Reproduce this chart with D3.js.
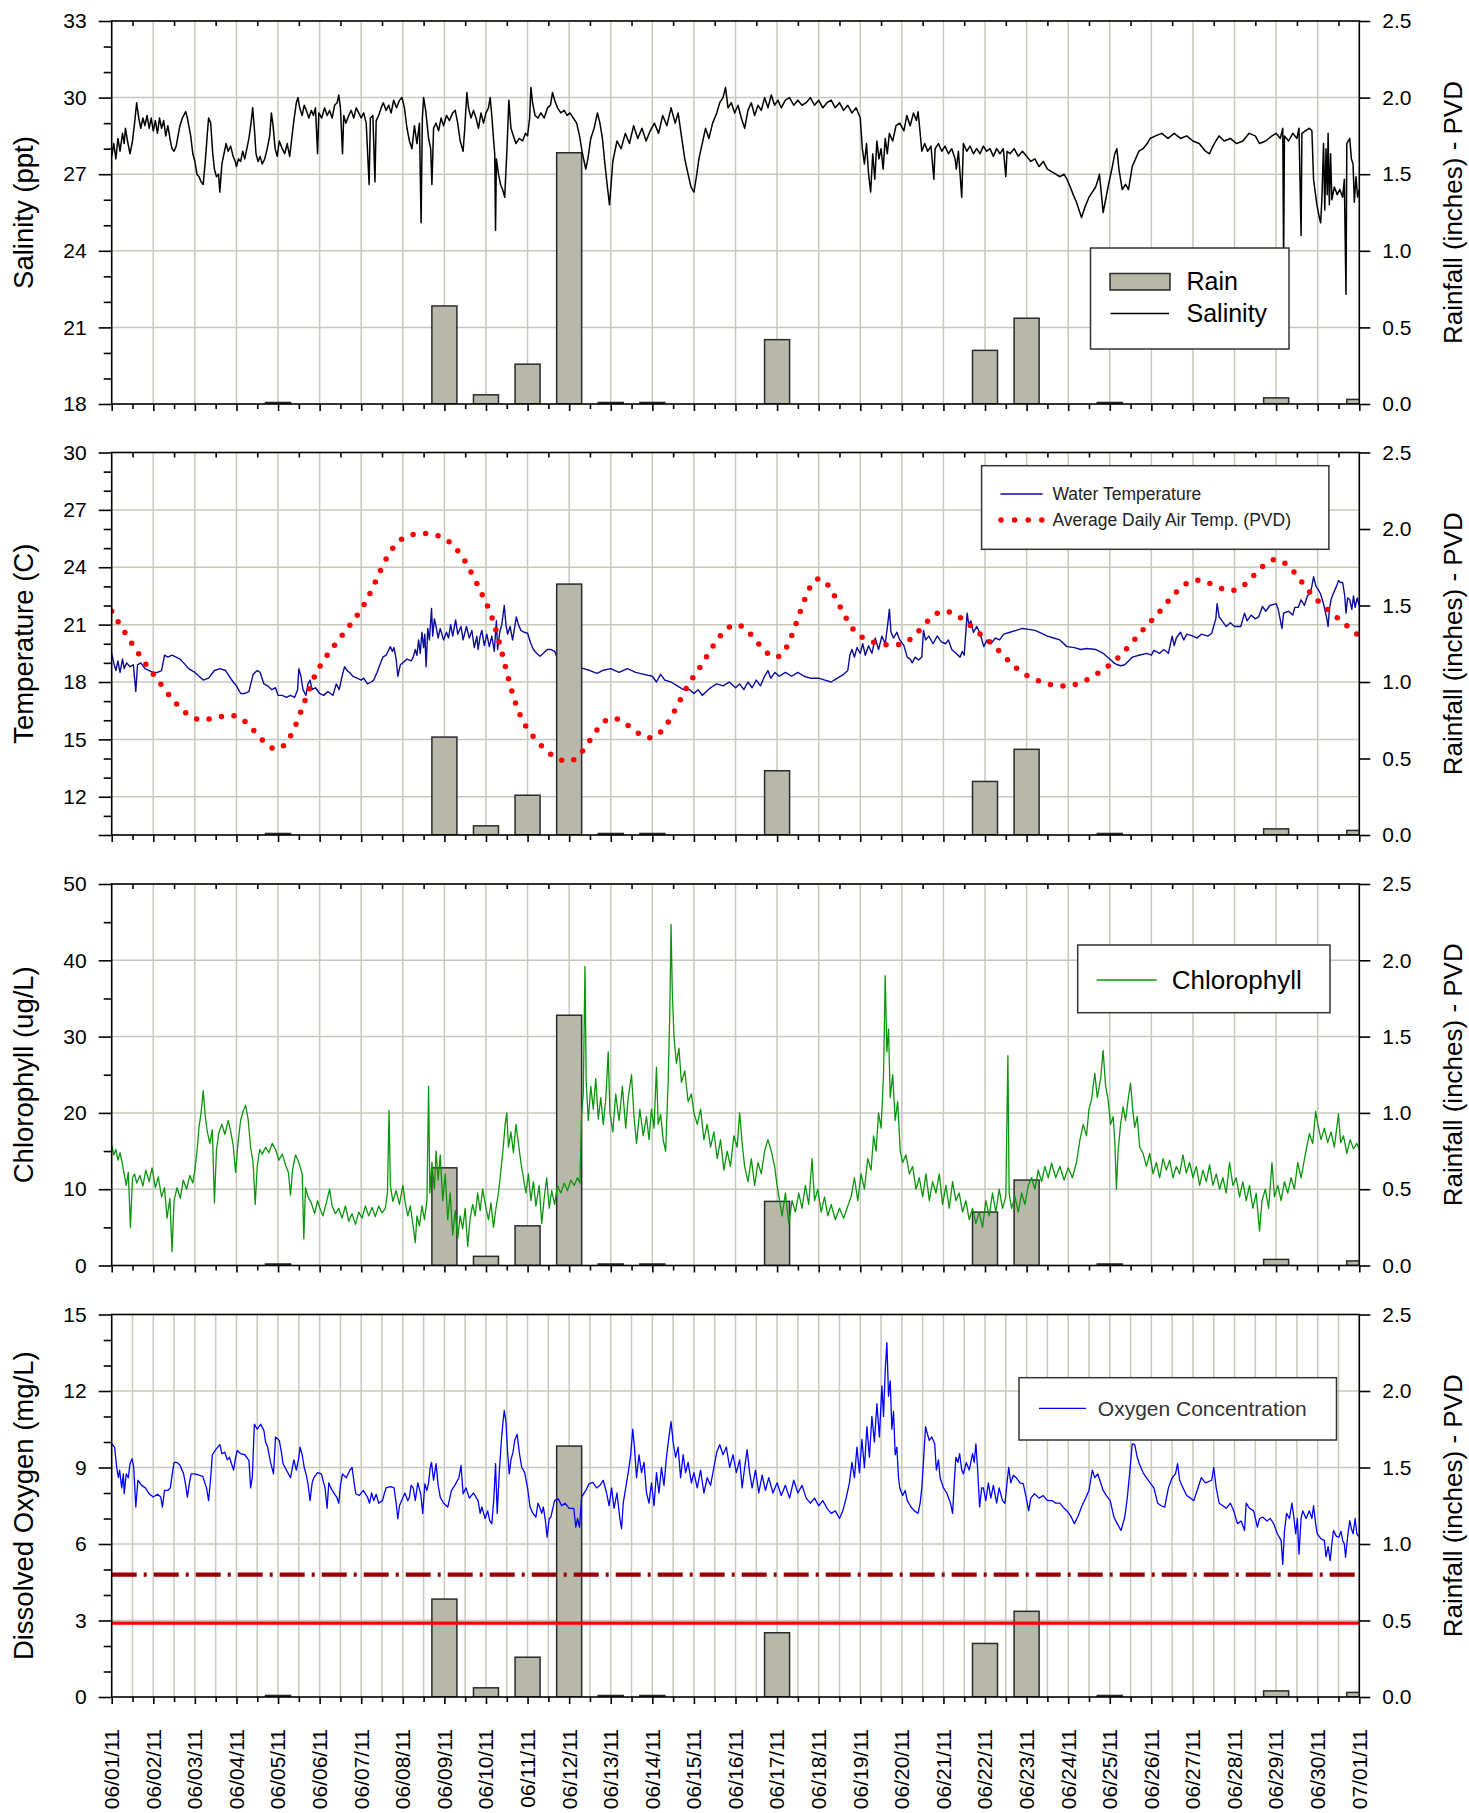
<!DOCTYPE html>
<html>
<head>
<meta charset="utf-8">
<script src="https://cdn.jsdelivr.net/npm/d3@7/dist/d3.min.js"></script>
<style>
body { margin: 0; background: #fff; }
svg text { font-family: "Liberation Sans", Arial, sans-serif; }
</style>
</head>
<body>
<svg id="chart" width="1469" height="1813"></svg>
<script>
// ---- data (day 0 = 06/01/11 00:00) ----
var dates = ["06/01/11","06/02/11","06/03/11","06/04/11","06/05/11","06/06/11","06/07/11","06/08/11",
  "06/09/11","06/10/11","06/11/11","06/12/11","06/13/11","06/14/11","06/15/11","06/16/11","06/17/11",
  "06/18/11","06/19/11","06/20/11","06/21/11","06/22/11","06/23/11","06/24/11","06/25/11","06/26/11",
  "06/27/11","06/28/11","06/29/11","06/30/11","07/01/11"];

var rainDays   = [4, 8, 9, 10, 11, 12, 13, 16, 21, 22, 24, 28, 30];
var rainInches = [0.01, 0.64, 0.06, 0.26, 1.64, 0.01, 0.01, 0.42, 0.35, 0.56, 0.01, 0.04, 0.03];

// average daily air temperature, one value per day 06/01 .. 07/01
var airTemp = [21.7, 18.4, 16.1, 16.2, 14.5, 18.8, 21.8, 25.5, 25.5, 22.15, 15.55, 13.85, 16.1, 15.1, 18.3,
  21.0, 19.3, 23.4, 20.4, 20.0, 21.7, 20.3, 18.35, 17.8, 18.9, 21.2, 23.3, 22.8, 24.4, 22.25, 20.4];

var salinity = [[0,27.7],[0.05,28.2],[0.1,27.6],[0.15,28.4],[0.2,27.9],[0.26,28.6],[0.3,28.2],[0.33,28.8],[0.38,28.3],[0.44,27.8],
  [0.5,28.3],[0.55,29.0],[0.6,29.8],[0.65,29.2],[0.7,28.8],[0.75,29.2],[0.8,28.9],[0.85,29.3],[0.9,28.8],[0.95,29.2],
  [1.0,28.7],[1.05,29.1],[1.1,28.6],[1.15,29.2],[1.2,28.8],[1.25,29.1],[1.3,28.5],[1.35,28.9],[1.4,28.4],[1.45,28.0],
  [1.5,27.9],[1.55,28.1],[1.64,28.9],[1.7,29.2],[1.78,29.45],[1.82,29.2],[1.9,28.5],[1.95,27.8],[2.0,27.5],[2.05,27.0],
  [2.1,26.9],[2.15,26.7],[2.2,26.6],[2.25,27.5],[2.3,28.6],[2.33,29.2],[2.38,29.0],[2.43,27.8],[2.47,27.2],[2.52,26.9],
  [2.57,27.0],[2.6,26.3],[2.65,27.4],[2.7,27.8],[2.75,28.2],[2.8,27.9],[2.86,28.1],[2.92,27.7],[2.97,27.5],[3.0,27.3],
  [3.05,27.6],[3.1,27.5],[3.15,27.9],[3.2,27.6],[3.25,28.0],[3.3,28.4],[3.35,29.0],[3.39,29.6],[3.43,28.8],[3.47,27.8],
  [3.52,27.5],[3.57,27.7],[3.62,27.4],[3.68,27.6],[3.74,28.0],[3.8,28.5],[3.84,29.4],[3.88,28.9],[3.93,28.0],[3.98,27.7],
  [4.03,28.3],[4.1,28.0],[4.16,27.8],[4.22,28.2],[4.28,27.7],[4.33,28.4],[4.38,29.1],[4.44,29.8],[4.48,30.0],[4.52,29.6],
  [4.58,29.3],[4.63,29.7],[4.68,29.5],[4.74,29.2],[4.8,29.5],[4.85,29.3],[4.9,29.6],[4.95,27.8],[4.98,29.4],[5.05,29.2],
  [5.12,29.6],[5.18,29.3],[5.24,29.5],[5.3,29.2],[5.36,29.7],[5.42,29.8],[5.46,30.1],[5.5,29.6],[5.55,27.8],[5.58,29.3],
  [5.63,29.0],[5.7,29.3],[5.76,29.5],[5.82,29.2],[5.88,29.6],[5.94,29.4],[6.0,29.2],[6.06,29.4],[6.12,29.0],[6.19,26.6],
  [6.22,29.2],[6.28,29.3],[6.33,26.7],[6.36,29.1],[6.42,29.3],[6.48,29.6],[6.53,29.8],[6.6,29.5],[6.66,29.7],[6.72,29.4],
  [6.78,29.9],[6.85,29.6],[6.92,29.9],[6.98,30.0],[7.04,29.6],[7.1,28.8],[7.16,28.3],[7.22,28.0],[7.28,28.9],[7.34,28.2],
  [7.4,29.0],[7.44,25.1],[7.47,29.2],[7.5,30.0],[7.55,29.5],[7.62,28.4],[7.67,28.0],[7.7,26.6],[7.74,28.8],[7.8,29.0],
  [7.86,28.7],[7.92,29.2],[7.98,28.9],[8.05,29.3],[8.12,29.1],[8.2,29.4],[8.26,29.5],[8.32,29.0],[8.38,28.3],[8.45,27.9],
  [8.49,28.8],[8.54,30.2],[8.58,29.6],[8.64,29.2],[8.7,29.5],[8.76,29.2],[8.82,28.8],[8.88,29.4],[8.94,29.0],[9.0,29.4],
  [9.06,29.6],[9.1,30.0],[9.14,29.3],[9.18,28.4],[9.21,27.8],[9.23,24.8],[9.25,27.6],[9.3,27.0],[9.35,26.6],[9.4,26.4],
  [9.45,26.1],[9.5,27.8],[9.55,29.9],[9.6,28.8],[9.66,28.5],[9.72,28.2],[9.8,28.4],[9.88,28.3],[9.95,28.6],[10.0,28.5],
  [10.05,29.2],[10.08,30.4],[10.12,29.8],[10.18,29.3],[10.25,29.2],[10.32,29.4],[10.4,29.2],[10.48,29.6],[10.55,29.7],[10.6,30.2],
  [10.65,29.9],[10.72,29.6],[10.8,29.4],[10.88,29.5],[10.95,29.3],[11.02,29.4],[11.1,29.2],[11.18,29.0],[11.25,28.5],[11.32,27.8],
  [11.4,27.2],[11.45,27.6],[11.52,28.4],[11.6,28.8],[11.68,29.4],[11.74,29.0],[11.8,28.4],[11.86,27.4],[11.92,26.5],[11.97,25.8],
  [12.05,27.5],[12.15,28.3],[12.25,28.0],[12.35,28.6],[12.45,28.2],[12.55,28.9],[12.65,28.4],[12.75,28.8],[12.85,28.3],[12.95,28.7],
  [13.05,29.0],[13.15,28.6],[13.25,29.3],[13.35,28.9],[13.45,29.6],[13.55,29.0],[13.62,29.4],[13.7,28.5],[13.78,27.6],[13.86,27.0],
  [13.93,26.5],[14.0,26.3],[14.06,26.9],[14.12,27.6],[14.2,28.2],[14.28,28.8],[14.36,28.4],[14.45,29.0],[14.55,29.4],[14.62,29.8],
  [14.7,30.0],[14.76,30.4],[14.82,29.6],[14.9,29.8],[14.98,29.4],[15.06,29.7],[15.14,29.2],[15.22,28.8],[15.3,29.5],[15.38,29.8],
  [15.46,29.3],[15.54,29.7],[15.62,29.5],[15.7,30.0],[15.78,29.6],[15.86,30.1],[15.94,29.7],[16.02,29.9],[16.1,29.6],[16.2,29.9],
  [16.3,30.0],[16.4,29.7],[16.5,29.9],[16.6,29.7],[16.7,29.8],[16.8,30.0],[16.9,29.7],[17.0,29.9],[17.1,29.6],[17.2,29.8],
  [17.3,29.9],[17.4,29.6],[17.5,29.8],[17.6,29.5],[17.7,29.7],[17.8,29.4],[17.9,29.6],[18.0,29.2],[18.05,28.0],[18.1,27.4],
  [18.15,28.2],[18.2,27.0],[18.25,26.3],[18.3,27.8],[18.35,26.8],[18.4,28.3],[18.45,27.6],[18.5,28.0],[18.55,27.2],[18.6,28.4],
  [18.65,27.8],[18.7,28.6],[18.78,28.3],[18.86,28.9],[18.95,29.0],[19.05,28.7],[19.12,29.3],[19.2,28.9],[19.28,29.4],[19.35,29.1],
  [19.39,29.45],[19.43,28.8],[19.48,27.9],[19.55,28.2],[19.62,27.9],[19.7,28.1],[19.77,26.8],[19.8,28.0],[19.88,28.2],[19.96,27.9],
  [20.04,28.1],[20.12,27.8],[20.2,28.0],[20.28,27.6],[20.31,27.2],[20.36,27.9],[20.44,26.1],[20.48,28.2],[20.56,27.9],[20.64,28.1],
  [20.72,27.8],[20.8,28.0],[20.88,27.8],[20.96,28.1],[21.04,27.9],[21.12,28.0],[21.2,27.7],[21.28,28.0],[21.36,27.8],[21.44,28.0],
  [21.5,26.9],[21.53,27.9],[21.6,27.8],[21.7,28.0],[21.8,27.7],[21.9,27.9],[22.0,27.7],[22.1,27.5],[22.2,27.6],[22.3,27.3],
  [22.4,27.5],[22.5,27.2],[22.6,27.1],[22.7,27.0],[22.8,26.9],[22.9,27.0],[22.97,26.8],[23.05,26.5],[23.12,26.2],[23.2,25.9],
  [23.26,25.6],[23.32,25.3],[23.4,25.7],[23.5,26.1],[23.58,26.3],[23.66,26.5],[23.72,26.8],[23.75,27.0],[23.8,26.2],[23.84,25.5],
  [23.9,26.0],[23.97,26.6],[24.05,27.2],[24.12,27.8],[24.17,28.0],[24.22,27.2],[24.3,26.4],[24.38,26.6],[24.45,26.4],[24.54,27.3],
  [24.62,27.6],[24.7,27.9],[24.8,28.0],[24.9,28.2],[24.97,28.4],[25.1,28.5],[25.25,28.6],[25.4,28.4],[25.55,28.6],[25.7,28.4],
  [25.85,28.5],[26.0,28.3],[26.15,28.2],[26.3,27.9],[26.4,27.8],[26.45,28.0],[26.55,28.3],[26.63,28.5],[26.75,28.3],[26.9,28.4],
  [27.05,28.2],[27.2,28.3],[27.35,28.6],[27.5,28.5],[27.6,28.2],[27.75,28.3],[27.9,28.5],[28.0,28.6],[28.1,28.4],[28.16,28.8],
  [28.18,23.5],[28.2,28.5],[28.3,28.3],[28.4,28.6],[28.5,28.4],[28.55,28.8],[28.6,24.6],[28.62,28.6],[28.7,28.7],[28.8,28.8],
  [28.86,28.7],[28.9,26.8],[28.98,25.8],[29.04,25.3],[29.07,25.1],[29.1,26.0],[29.14,28.2],[29.17,25.6],[29.2,28.0],[29.23,26.2],
  [29.25,28.6],[29.28,25.8],[29.31,27.8],[29.34,26.0],[29.4,26.5],[29.47,26.2],[29.53,26.4],[29.6,26.1],[29.64,26.8],[29.68,22.3],
  [29.7,28.2],[29.77,28.4],[29.81,27.6],[29.85,27.4],[29.88,25.9],[29.92,26.9],[29.96,26.1],[30.0,26.4]];

var waterTemp = [[0,19.5],[0.05,19.0],[0.1,18.6],[0.15,19.1],[0.2,18.5],[0.26,19.2],[0.3,18.7],[0.36,19.0],[0.44,18.8],[0.52,18.9],
  [0.58,17.5],[0.62,18.9],[0.7,19.0],[0.8,18.7],[0.9,18.6],[1.0,18.5],[1.1,18.5],[1.2,18.6],[1.27,19.4],[1.35,19.3],
  [1.45,19.4],[1.55,19.3],[1.64,19.2],[1.73,19.0],[1.85,18.7],[2.0,18.5],[2.1,18.3],[2.2,18.1],[2.33,18.2],[2.47,18.6],
  [2.6,18.7],[2.74,18.6],[2.83,18.3],[2.92,18.0],[3.0,17.8],[3.1,17.4],[3.2,17.4],[3.3,17.5],[3.4,18.4],[3.5,18.6],
  [3.57,18.5],[3.66,17.9],[3.75,17.8],[3.85,17.6],[3.94,17.7],[4.0,17.3],[4.1,17.3],[4.2,17.2],[4.3,17.3],[4.4,17.2],
  [4.47,17.6],[4.5,18.7],[4.55,18.3],[4.6,17.6],[4.67,17.3],[4.72,17.9],[4.77,18.1],[4.82,17.6],[4.9,17.7],[5.0,17.4],
  [5.1,17.3],[5.2,17.5],[5.32,17.3],[5.4,17.9],[5.47,17.6],[5.55,18.4],[5.6,18.8],[5.66,18.6],[5.72,18.5],[5.8,18.3],
  [5.9,18.2],[6.0,18.1],[6.06,18.2],[6.15,17.9],[6.24,18.0],[6.3,18.1],[6.38,18.5],[6.45,18.9],[6.52,19.3],[6.6,19.4],
  [6.7,19.85],[6.75,19.6],[6.79,19.8],[6.84,19.2],[6.88,18.3],[6.94,18.9],[7.0,19.0],[7.1,19.2],[7.2,19.1],[7.25,19.3],
  [7.3,19.7],[7.34,19.4],[7.38,20.2],[7.42,19.5],[7.46,20.6],[7.5,19.8],[7.53,20.5],[7.56,18.8],[7.6,20.8],[7.64,20.2],
  [7.69,21.85],[7.72,20.4],[7.76,21.3],[7.8,20.9],[7.85,20.3],[7.9,20.8],[7.98,20.2],[8.05,20.6],[8.1,20.3],[8.15,21.0],
  [8.2,20.4],[8.27,21.25],[8.32,20.5],[8.4,20.9],[8.45,20.2],[8.53,20.9],[8.6,20.3],[8.66,20.7],[8.72,19.8],[8.78,20.4],
  [8.81,19.7],[8.86,20.4],[8.9,20.7],[8.96,19.9],[9.02,20.5],[9.08,19.85],[9.14,20.4],[9.2,19.6],[9.25,21.2],[9.28,19.7],
  [9.33,20.6],[9.38,21.0],[9.44,22.0],[9.48,21.0],[9.52,20.5],[9.58,20.9],[9.64,20.2],[9.7,21.0],[9.73,21.4],[9.78,21.0],
  [9.84,20.7],[9.92,20.6],[10.0,20.55],[10.08,20.0],[10.14,19.7],[10.22,19.5],[10.3,19.35],[10.38,19.5],[10.47,19.7],[10.56,19.7],
  [10.65,19.6],[10.74,19.15],[10.85,19.0],[10.95,18.9],[11.1,18.8],[11.2,18.8],[11.35,18.7],[11.5,18.6],[11.67,18.45],[11.8,18.6],
  [12.0,18.7],[12.2,18.5],[12.4,18.7],[12.6,18.5],[12.8,18.4],[13.0,18.3],[13.1,18.0],[13.2,18.4],[13.3,18.1],[13.45,18.0],
  [13.6,17.8],[13.75,17.6],[13.9,17.6],[14.0,17.4],[14.1,17.6],[14.2,17.3],[14.3,17.5],[14.4,17.7],[14.55,17.9],[14.7,17.8],
  [14.85,18.0],[15.0,17.7],[15.1,17.9],[15.2,17.6],[15.3,18.0],[15.4,17.7],[15.5,18.1],[15.6,17.8],[15.7,18.3],[15.78,18.6],
  [15.85,18.2],[15.95,18.5],[16.05,18.3],[16.2,18.5],[16.35,18.3],[16.5,18.5],[16.65,18.3],[16.8,18.2],[17.0,18.2],[17.15,18.1],
  [17.3,18.0],[17.45,18.2],[17.6,18.4],[17.7,18.6],[17.75,19.4],[17.8,19.7],[17.86,19.3],[17.92,19.8],[18.0,19.5],[18.06,20.0],
  [18.12,19.4],[18.2,19.9],[18.28,19.5],[18.36,20.3],[18.44,19.7],[18.52,20.4],[18.6,20.0],[18.66,21.0],[18.7,21.8],[18.74,20.6],
  [18.8,20.3],[18.88,20.6],[18.95,20.2],[19.05,19.9],[19.13,19.3],[19.2,19.2],[19.25,19.0],[19.32,19.3],[19.4,19.15],[19.48,19.3],
  [19.52,20.7],[19.57,20.2],[19.65,20.4],[19.75,20.0],[19.85,20.4],[19.95,20.1],[20.05,20.0],[20.12,20.2],[20.2,19.7],[20.3,19.5],
  [20.4,19.3],[20.45,19.6],[20.5,19.4],[20.57,21.6],[20.61,21.0],[20.66,21.2],[20.72,20.6],[20.8,20.9],[20.88,20.55],[20.97,19.85],
  [21.05,20.2],[21.14,20.0],[21.25,20.3],[21.35,20.2],[21.45,20.5],[21.6,20.6],[21.75,20.7],[21.9,20.8],[22.05,20.75],[22.2,20.7],
  [22.35,20.55],[22.5,20.4],[22.65,20.3],[22.8,20.2],[22.97,19.85],[23.15,19.8],[23.3,19.7],[23.45,19.75],[23.66,19.7],[23.84,19.5],
  [24.0,19.2],[24.1,19.0],[24.18,18.9],[24.27,18.85],[24.36,18.9],[24.45,19.1],[24.54,19.3],[24.7,19.4],[24.89,19.5],[25.0,19.4],
  [25.06,19.65],[25.2,19.5],[25.3,19.7],[25.41,19.5],[25.5,20.4],[25.55,19.9],[25.6,20.3],[25.7,20.6],[25.78,20.2],[25.85,20.5],
  [25.93,20.45],[26.0,20.4],[26.1,20.3],[26.2,20.5],[26.36,20.4],[26.45,20.55],[26.55,21.3],[26.58,22.1],[26.63,21.4],[26.7,21.2],
  [26.8,20.9],[26.9,21.1],[27.0,20.9],[27.15,20.9],[27.24,21.6],[27.3,21.2],[27.4,21.5],[27.5,21.3],[27.58,21.4],[27.67,21.95],
  [27.75,21.7],[27.85,22.0],[28.0,22.1],[28.05,21.8],[28.1,21.25],[28.14,20.8],[28.18,21.6],[28.3,21.7],[28.4,21.5],[28.45,21.9],
  [28.53,21.9],[28.6,22.3],[28.68,22.0],[28.75,22.5],[28.8,22.6],[28.85,22.9],[28.9,23.5],[28.96,23.0],[29.02,22.8],[29.07,22.6],
  [29.15,22.0],[29.22,21.3],[29.25,20.9],[29.28,21.8],[29.32,22.3],[29.37,22.6],[29.45,23.0],[29.5,23.3],[29.55,23.2],[29.6,23.2],
  [29.65,22.5],[29.68,21.6],[29.72,22.4],[29.77,22.3],[29.82,21.8],[29.86,22.5],[29.9,21.9],[29.95,22.4],[30.0,22.0]];

var chlorophyll = [[0,15.8],[0.05,14.5],[0.1,15.2],[0.15,13.8],[0.2,14.8],[0.25,13.5],[0.3,12.0],[0.35,10.5],[0.4,12.2],[0.45,5.0],
  [0.5,11.5],[0.55,12.0],[0.6,10.8],[0.68,11.8],[0.75,10.4],[0.82,12.5],[0.9,11.0],[0.97,12.8],[1.05,10.2],[1.12,11.6],
  [1.2,9.0],[1.27,10.2],[1.33,6.2],[1.4,8.8],[1.45,1.8],[1.5,8.5],[1.57,10.2],[1.65,8.8],[1.72,11.2],[1.8,10.0],
  [1.88,11.8],[1.95,10.8],[2.0,12.5],[2.06,15.5],[2.1,18.2],[2.15,20.0],[2.2,22.9],[2.25,19.5],[2.3,17.5],[2.36,16.0],
  [2.42,17.8],[2.47,8.2],[2.52,15.2],[2.58,17.5],[2.65,18.5],[2.72,17.2],[2.8,19.0],[2.86,17.6],[2.92,15.8],[2.98,12.2],
  [3.04,16.2],[3.1,19.0],[3.16,20.2],[3.22,21.0],[3.28,19.2],[3.34,15.5],[3.4,13.5],[3.45,8.0],[3.5,13.0],[3.56,15.2],
  [3.62,14.6],[3.7,15.5],[3.78,14.8],[3.86,16.0],[3.94,15.2],[4.02,13.8],[4.1,14.6],[4.18,13.2],[4.25,12.2],[4.3,9.2],
  [4.35,12.6],[4.42,14.5],[4.5,13.5],[4.58,12.0],[4.62,3.5],[4.66,10.2],[4.72,9.0],[4.8,8.2],[4.88,6.8],[4.95,8.5],
  [5.0,7.6],[5.08,6.5],[5.16,8.2],[5.24,10.0],[5.3,7.8],[5.38,6.8],[5.46,7.5],[5.54,6.2],[5.62,7.8],[5.7,5.8],
  [5.78,6.8],[5.86,5.4],[5.94,7.0],[6.02,6.2],[6.1,7.8],[6.18,6.5],[6.26,7.6],[6.34,6.4],[6.42,7.8],[6.5,6.9],
  [6.58,7.5],[6.63,9.5],[6.67,20.3],[6.7,10.5],[6.76,8.4],[6.84,9.8],[6.92,8.0],[7.0,10.5],[7.06,8.2],[7.12,6.5],
  [7.18,7.8],[7.24,5.5],[7.3,3.0],[7.34,6.5],[7.4,5.2],[7.46,7.8],[7.52,6.0],[7.58,8.5],[7.62,23.5],[7.65,9.5],
  [7.7,13.5],[7.76,10.0],[7.8,15.0],[7.85,11.2],[7.9,14.5],[7.96,8.5],[8.02,12.0],[8.08,6.0],[8.14,9.5],[8.2,4.0],
  [8.26,7.2],[8.32,3.5],[8.38,6.5],[8.44,4.8],[8.5,7.5],[8.56,2.5],[8.62,6.2],[8.68,8.0],[8.74,6.5],[8.8,9.5],
  [8.86,7.2],[8.92,10.0],[9.0,7.5],[9.06,6.0],[9.12,8.2],[9.18,5.0],[9.24,7.5],[9.3,9.5],[9.36,12.5],[9.42,15.8],
  [9.46,18.5],[9.5,20.0],[9.54,15.5],[9.6,17.5],[9.66,14.8],[9.72,18.5],[9.78,16.0],[9.84,13.5],[9.9,11.5],[9.96,9.5],
  [10.02,12.0],[10.08,8.5],[10.14,11.0],[10.2,7.8],[10.28,10.5],[10.34,5.5],[10.4,8.8],[10.46,11.5],[10.52,7.5],[10.58,9.8],
  [10.65,8.0],[10.72,10.5],[10.8,9.5],[10.88,10.8],[10.96,9.8],[11.04,11.2],[11.12,10.5],[11.2,11.5],[11.26,10.8],[11.3,20.0],
  [11.34,22.5],[11.38,39.2],[11.41,24.0],[11.46,19.0],[11.52,23.5],[11.58,20.5],[11.64,24.5],[11.7,19.2],[11.76,22.0],[11.82,18.5],
  [11.88,21.8],[11.94,28.0],[11.98,20.0],[12.05,17.5],[12.12,22.5],[12.2,19.0],[12.28,23.5],[12.36,18.0],[12.42,22.0],[12.5,25.0],
  [12.56,19.5],[12.62,16.0],[12.7,20.5],[12.78,17.0],[12.86,19.5],[12.92,16.5],[12.98,20.5],[13.04,18.0],[13.1,26.0],[13.14,18.5],
  [13.2,19.8],[13.26,16.5],[13.32,15.0],[13.38,24.0],[13.42,33.0],[13.45,44.7],[13.48,36.0],[13.52,30.0],[13.58,26.5],[13.64,28.5],
  [13.7,24.0],[13.78,25.5],[13.86,21.5],[13.94,22.5],[14.0,20.0],[14.08,18.5],[14.16,20.5],[14.24,16.5],[14.32,18.5],[14.4,15.5],
  [14.48,17.5],[14.56,14.0],[14.64,16.5],[14.72,12.5],[14.8,15.0],[14.88,13.0],[14.96,17.0],[15.04,15.5],[15.1,20.0],[15.16,16.0],
  [15.22,13.0],[15.3,11.0],[15.38,14.0],[15.46,10.5],[15.54,13.5],[15.62,12.0],[15.7,15.0],[15.78,16.5],[15.86,15.0],[15.94,13.0],
  [16.0,10.5],[16.06,8.5],[16.12,6.5],[16.2,9.5],[16.28,5.5],[16.36,8.5],[16.44,7.0],[16.52,9.5],[16.6,7.5],[16.68,10.5],
  [16.76,8.0],[16.84,14.0],[16.9,8.5],[16.98,10.0],[17.06,7.0],[17.14,9.0],[17.22,6.5],[17.3,8.0],[17.4,6.0],[17.5,7.5],
  [17.6,6.2],[17.7,7.8],[17.78,9.0],[17.86,11.5],[17.94,8.5],[18.02,12.0],[18.1,10.0],[18.18,14.0],[18.26,12.5],[18.32,17.0],
  [18.38,15.0],[18.44,20.0],[18.5,18.0],[18.56,25.0],[18.6,38.0],[18.64,28.0],[18.68,31.0],[18.72,22.0],[18.78,25.0],[18.84,19.0],
  [18.9,21.5],[18.96,15.0],[19.02,13.5],[19.1,14.5],[19.18,12.0],[19.26,13.0],[19.34,10.0],[19.42,11.5],[19.5,9.0],[19.58,12.0],
  [19.66,8.5],[19.74,11.0],[19.82,9.5],[19.9,12.0],[19.98,8.0],[20.06,10.5],[20.14,7.5],[20.22,11.0],[20.3,8.5],[20.38,9.5],
  [20.46,7.0],[20.54,8.5],[20.62,6.0],[20.7,7.5],[20.78,5.5],[20.86,7.0],[20.94,5.0],[21.02,8.5],[21.1,6.5],[21.18,9.5],
  [21.26,7.0],[21.34,10.0],[21.42,7.5],[21.5,9.0],[21.55,27.5],[21.58,9.5],[21.64,7.5],[21.72,9.0],[21.8,7.0],[21.88,9.5],
  [21.96,8.0],[22.04,10.5],[22.12,11.5],[22.2,10.0],[22.28,12.5],[22.36,11.0],[22.44,13.0],[22.52,11.5],[22.6,13.4],[22.7,11.5],
  [22.8,13.0],[22.9,11.2],[23.0,12.8],[23.1,11.5],[23.2,13.5],[23.28,16.4],[23.36,18.5],[23.44,17.0],[23.5,20.5],[23.56,21.7],
  [23.64,25.2],[23.7,22.0],[23.78,24.5],[23.84,28.2],[23.9,23.5],[23.96,21.7],[24.02,18.5],[24.08,19.5],[24.12,16.4],[24.16,10.0],
  [24.2,15.0],[24.26,18.5],[24.32,20.8],[24.38,19.0],[24.44,21.7],[24.5,23.9],[24.55,20.5],[24.6,18.1],[24.66,19.5],[24.72,15.5],
  [24.8,14.7],[24.88,13.0],[24.96,14.7],[25.04,12.0],[25.12,13.5],[25.2,11.5],[25.28,14.0],[25.36,12.5],[25.44,13.8],[25.52,11.5],
  [25.6,13.0],[25.68,12.0],[25.76,14.5],[25.84,12.1],[25.92,13.5],[26.0,11.5],[26.08,13.0],[26.16,10.5],[26.24,12.5],[26.32,11.0],
  [26.4,13.2],[26.48,10.5],[26.56,12.0],[26.64,10.0],[26.72,11.5],[26.8,9.5],[26.88,13.5],[26.96,10.5],[27.04,11.5],[27.12,9.0],
  [27.2,11.0],[27.28,8.5],[27.36,10.5],[27.44,7.5],[27.52,9.5],[27.6,4.5],[27.66,8.5],[27.74,10.0],[27.82,7.5],[27.9,13.5],
  [27.96,9.0],[28.04,10.5],[28.12,8.5],[28.2,11.0],[28.28,9.5],[28.36,11.5],[28.44,10.0],[28.52,13.5],[28.6,11.5],[28.7,14.5],
  [28.8,17.3],[28.88,16.0],[28.95,20.2],[29.0,18.6],[29.08,16.5],[29.16,18.0],[29.24,16.1],[29.32,17.5],[29.4,15.5],[29.5,19.9],
  [29.55,16.1],[29.62,17.0],[29.7,14.7],[29.78,16.5],[29.86,15.3],[29.94,16.0],[30.0,15.3]];

var oxygen = [[0,9.93],[0.07,9.8],[0.12,9.0],[0.16,8.6],[0.19,8.9],[0.24,8.2],[0.28,8.75],[0.3,7.97],[0.35,8.75],[0.4,8.6],
  [0.44,9.15],[0.49,9.34],[0.53,9.0],[0.58,7.45],[0.63,8.5],[0.72,8.3],[0.81,8.2],[0.9,7.97],[1.0,7.84],[1.1,7.95],
  [1.18,7.84],[1.22,7.45],[1.27,8.1],[1.35,8.1],[1.41,8.2],[1.46,8.8],[1.5,9.2],[1.57,9.2],[1.64,9.1],[1.73,8.75],
  [1.78,8.3],[1.82,7.84],[1.87,8.4],[1.91,8.75],[2.0,8.75],[2.1,8.7],[2.19,8.65],[2.28,8.2],[2.33,7.7],[2.38,8.6],
  [2.42,9.5],[2.5,9.7],[2.6,9.9],[2.65,9.54],[2.72,9.6],[2.78,9.3],[2.83,9.4],[2.93,8.9],[2.98,9.4],[3.02,9.67],
  [3.1,9.54],[3.2,9.5],[3.3,9.28],[3.34,8.2],[3.38,8.6],[3.43,10.7],[3.5,10.5],[3.58,10.7],[3.66,10.45],[3.7,10.0],
  [3.75,9.8],[3.82,9.2],[3.89,8.75],[3.94,10.2],[4.03,10.06],[4.08,9.6],[4.12,9.15],[4.2,8.9],[4.3,8.6],[4.38,9.3],
  [4.44,8.9],[4.5,9.4],[4.53,9.8],[4.58,9.5],[4.63,9.0],[4.68,8.7],[4.72,8.36],[4.77,7.7],[4.82,8.4],[4.86,8.6],
  [4.95,8.8],[5.04,8.75],[5.13,8.2],[5.18,7.4],[5.22,8.4],[5.27,8.2],[5.34,8.0],[5.41,7.84],[5.46,7.6],[5.5,8.3],
  [5.55,8.75],[5.64,8.6],[5.73,8.9],[5.78,9.0],[5.83,8.4],[5.87,7.97],[5.95,7.9],[6.05,8.1],[6.15,7.84],[6.2,7.6],
  [6.25,8.0],[6.3,7.7],[6.36,7.95],[6.42,7.6],[6.51,7.7],[6.56,8.0],[6.6,8.2],[6.7,8.25],[6.79,8.2],[6.84,7.6],
  [6.88,6.99],[6.92,7.5],[6.97,7.7],[7.05,8.0],[7.12,7.7],[7.16,7.84],[7.2,8.3],[7.25,8.2],[7.3,7.7],[7.36,8.4],
  [7.43,7.97],[7.48,7.2],[7.53,8.36],[7.58,8.1],[7.62,8.4],[7.66,9.0],[7.69,9.2],[7.74,8.5],[7.8,9.15],[7.85,8.3],
  [7.9,7.84],[7.98,7.6],[8.08,7.45],[8.13,7.8],[8.17,8.1],[8.25,8.3],[8.35,8.6],[8.4,9.08],[8.45,7.97],[8.52,8.2],
  [8.6,7.8],[8.7,8.0],[8.81,7.7],[8.86,7.2],[8.9,7.45],[8.98,7.0],[9.04,7.3],[9.09,6.92],[9.14,6.8],[9.19,7.8],
  [9.23,9.15],[9.27,7.2],[9.32,8.8],[9.37,10.06],[9.41,10.8],[9.44,11.24],[9.48,10.8],[9.52,9.6],[9.56,8.75],[9.6,9.3],
  [9.65,9.6],[9.69,10.06],[9.75,10.3],[9.8,9.6],[9.86,9.0],[9.93,8.8],[10.0,8.2],[10.06,7.45],[10.13,7.2],[10.2,7.05],
  [10.25,7.6],[10.29,7.45],[10.34,7.2],[10.38,7.45],[10.43,6.9],[10.47,6.27],[10.52,7.0],[10.56,7.05],[10.65,7.7],[10.74,7.77],
  [10.82,7.5],[10.9,7.6],[11.0,7.4],[11.11,7.4],[11.16,6.66],[11.2,7.0],[11.25,6.66],[11.3,7.84],[11.4,8.1],[11.48,8.36],
  [11.57,8.42],[11.66,8.2],[11.74,8.3],[11.82,8.5],[11.9,8.0],[11.96,7.5],[12.02,8.2],[12.08,7.4],[12.15,8.0],[12.22,7.0],
  [12.26,6.6],[12.3,7.6],[12.36,8.2],[12.42,8.8],[12.48,9.5],[12.53,10.5],[12.57,9.8],[12.62,8.6],[12.68,9.5],[12.74,8.8],
  [12.8,9.2],[12.86,8.0],[12.92,7.6],[12.98,8.4],[13.04,7.5],[13.1,8.8],[13.16,8.0],[13.22,9.0],[13.28,8.3],[13.34,9.4],
  [13.4,10.2],[13.45,10.8],[13.5,10.0],[13.56,9.4],[13.62,9.8],[13.68,8.6],[13.74,9.5],[13.8,8.8],[13.86,9.2],[13.94,8.4],
  [14.0,8.8],[14.08,8.2],[14.16,8.9],[14.24,8.0],[14.32,8.6],[14.4,8.3],[14.48,9.0],[14.55,9.6],[14.62,9.9],[14.7,9.5],
  [14.78,9.8],[14.86,9.0],[14.94,9.5],[15.02,8.8],[15.1,9.3],[15.16,8.2],[15.22,9.0],[15.28,9.7],[15.34,8.8],[15.4,8.2],
  [15.48,8.9],[15.56,8.0],[15.64,8.7],[15.72,8.1],[15.8,8.6],[15.9,8.0],[16.0,8.4],[16.1,7.9],[16.2,8.3],[16.3,7.8],
  [16.4,8.5],[16.5,8.0],[16.6,8.3],[16.7,7.8],[16.8,7.6],[16.9,7.8],[17.0,7.5],[17.1,7.7],[17.2,7.4],[17.3,7.2],
  [17.4,7.3],[17.5,7.0],[17.58,7.3],[17.66,7.8],[17.74,8.4],[17.8,9.2],[17.86,8.6],[17.92,9.8],[17.98,8.8],[18.04,10.1],
  [18.1,9.0],[18.16,10.6],[18.22,9.4],[18.28,11.0],[18.34,10.0],[18.4,11.5],[18.46,10.2],[18.52,12.2],[18.56,11.0],[18.6,12.8],
  [18.64,13.9],[18.68,11.8],[18.72,12.4],[18.76,10.5],[18.8,11.2],[18.84,9.5],[18.88,9.8],[18.92,8.6],[18.95,8.2],[19.02,7.9],
  [19.08,8.1],[19.13,7.7],[19.22,7.45],[19.3,7.3],[19.39,7.2],[19.44,7.6],[19.48,8.2],[19.53,9.5],[19.57,10.6],[19.6,10.4],
  [19.66,10.06],[19.72,10.2],[19.79,9.93],[19.83,8.9],[19.88,9.3],[19.92,8.6],[20.0,8.2],[20.08,8.0],[20.17,7.6],[20.22,7.2],
  [20.26,8.4],[20.3,9.4],[20.35,9.2],[20.39,9.54],[20.44,8.9],[20.48,8.75],[20.55,9.2],[20.62,8.9],[20.7,9.54],[20.74,9.2],
  [20.78,9.93],[20.82,9.0],[20.87,7.45],[20.92,8.2],[20.96,8.2],[21.02,7.7],[21.08,8.4],[21.14,7.8],[21.2,8.3],[21.28,7.6],
  [21.34,8.2],[21.42,7.7],[21.48,7.6],[21.53,8.4],[21.57,9.0],[21.62,8.4],[21.68,8.7],[21.75,8.6],[21.84,8.4],[21.92,8.36],
  [21.98,7.9],[22.05,7.3],[22.1,7.8],[22.19,7.97],[22.3,7.8],[22.4,7.9],[22.5,7.7],[22.62,7.7],[22.7,7.6],[22.8,7.6],
  [22.9,7.4],[22.97,7.3],[23.06,7.1],[23.15,6.8],[23.24,7.1],[23.32,7.45],[23.42,7.8],[23.5,8.1],[23.58,8.9],[23.64,8.6],
  [23.71,8.75],[23.78,8.4],[23.84,8.1],[23.92,7.9],[24.01,7.7],[24.1,7.05],[24.18,6.8],[24.27,6.53],[24.36,7.05],[24.42,7.8],
  [24.48,8.8],[24.54,9.93],[24.6,9.9],[24.66,9.4],[24.71,9.15],[24.8,8.8],[24.88,8.6],[24.97,8.4],[25.06,8.2],[25.15,7.6],
  [25.24,7.5],[25.32,7.45],[25.41,8.2],[25.5,8.6],[25.58,8.75],[25.63,9.15],[25.68,8.5],[25.76,8.2],[25.85,7.9],[25.94,7.8],
  [26.02,7.7],[26.1,8.1],[26.2,8.6],[26.3,8.4],[26.45,8.5],[26.5,9.0],[26.56,8.2],[26.63,7.6],[26.72,7.5],[26.8,7.4],
  [26.9,7.6],[26.98,7.3],[27.07,6.8],[27.16,6.9],[27.24,6.53],[27.28,7.6],[27.36,7.4],[27.46,7.3],[27.55,6.66],[27.6,7.0],
  [27.68,7.05],[27.78,6.9],[27.86,7.0],[27.94,6.8],[28.03,6.4],[28.1,6.2],[28.12,6.14],[28.16,5.2],[28.2,6.5],[28.25,7.2],
  [28.32,7.0],[28.38,7.6],[28.43,7.0],[28.47,6.4],[28.51,7.0],[28.55,5.6],[28.6,7.0],[28.64,7.3],[28.72,7.0],[28.8,7.3],
  [28.86,7.0],[28.9,7.5],[28.95,6.8],[28.99,6.4],[29.08,6.2],[29.16,6.14],[29.2,5.5],[29.25,5.9],[29.3,5.35],[29.34,6.0],
  [29.38,6.53],[29.45,6.3],[29.51,6.27],[29.56,6.5],[29.6,6.14],[29.64,6.0],[29.67,5.48],[29.72,6.3],[29.77,6.92],[29.81,6.6],
  [29.85,6.4],[29.9,7.0],[29.94,6.4],[30.0,6.27]];

// dissolved oxygen reference levels (mg/L)
var doLevels = [4.8, 2.9];

// ---- layout ----
var left = 111.7, right = 1359.3;
var fontTick = 21;
var gridColor = "#c8c8be", barFill = "#b8b8aa";

var svg = d3.select("#chart");
var x = d3.scaleLinear().domain([0, 30]).range([left, right]);

var panels = [
  { top: 21,    bottom: 404,    domain: [18, 33], major: d3.range(18, 34, 3), minor: d3.range(18, 34, 1), title: "Salinity (ppt)", halfGrid: false },
  { top: 452.5, bottom: 835,    domain: [10, 30], major: d3.range(12, 31, 3), minor: d3.range(10, 31, 1), title: "Temperature (C)", halfGrid: false },
  { top: 884,   bottom: 1265.5, domain: [0, 50],  major: d3.range(0, 51, 10), minor: d3.range(0, 51, 5), title: "Chlorophyll (ug/L)", halfGrid: false },
  { top: 1314.5, bottom: 1697,  domain: [0, 15],  major: d3.range(0, 16, 3),  minor: d3.range(0, 16, 1), title: "Dissolved Oxygen (mg/L)", halfGrid: true }
];

panels.forEach(function(p, i) {
  var y = d3.scaleLinear().domain(p.domain).range([p.bottom, p.top]);
  var yR = d3.scaleLinear().domain([0, 2.5]).range([p.bottom, p.top]);
  p.y = y; p.yR = yR;
  var g = svg.append("g").attr("class", "panel" + i);
  var cid = "clip" + i;
  svg.append("clipPath").attr("id", cid).append("rect")
    .attr("x", left).attr("y", p.top).attr("width", right - left).attr("height", p.bottom - p.top);

  // grid
  var vg = p.halfGrid ? d3.range(0.5, 30, 0.5) : d3.range(1, 30, 1);
  g.append("g").selectAll("line").data(vg).enter().append("line")
    .attr("x1", d => x(d)).attr("x2", d => x(d)).attr("y1", p.top).attr("y2", p.bottom)
    .attr("stroke", gridColor).attr("stroke-width", 1.5);
  var hg = p.major.filter(d => d > p.domain[0] && d < p.domain[1]);
  g.append("g").selectAll("line").data(hg).enter().append("line")
    .attr("x1", left).attr("x2", right).attr("y1", d => y(d)).attr("y2", d => y(d))
    .attr("stroke", gridColor).attr("stroke-width", 1.5);

  p.under = g.append("g").attr("clip-path", "url(#" + cid + ")");
  var bars = g.append("g").attr("clip-path", "url(#" + cid + ")");
  bars.selectAll("rect").data(rainDays).enter().append("rect")
    .attr("x", d => x(d) - 12.5).attr("width", 25)
    .attr("y", (d, j) => yR(rainInches[j]))
    .attr("height", (d, j) => yR(0) - yR(rainInches[j]))
    .attr("fill", barFill).attr("stroke", "#2a2a2a").attr("stroke-width", 1.5);
  p.over = g.append("g").attr("clip-path", "url(#" + cid + ")");
  p.g = g;
});

function series(p, target, data, color, w) {
  var line = d3.line().x(d => x(d[0])).y(d => p.y(d[1]));
  target.append("path").datum(data).attr("d", line)
    .attr("fill", "none").attr("stroke", color).attr("stroke-width", w).attr("stroke-linejoin", "round");
}

series(panels[0], panels[0].over, salinity, "#000", 1.5);
series(panels[1], panels[1].under, waterTemp, "#0c0c9c", 1.4);
panels[1].over.append("path").datum(airTemp)
  .attr("d", d3.line().curve(d3.curveCatmullRom).x((d, j) => x(j)).y(d => panels[1].y(d)))
  .attr("fill", "none").attr("stroke", "#ff0000").attr("stroke-width", 5.5)
  .attr("stroke-linecap", "round").attr("stroke-dasharray", "0 12.6");
series(panels[2], panels[2].over, chlorophyll, "#0a960a", 1.3);
series(panels[3], panels[3].over, oxygen, "#0000ff", 1.3);
panels[3].over.append("line")
  .attr("x1", left).attr("x2", right).attr("y1", panels[3].y(doLevels[0])).attr("y2", panels[3].y(doLevels[0]))
  .attr("stroke", "#990000").attr("stroke-width", 4.3).attr("stroke-dasharray", "25 7 3 7");
panels[3].over.append("line")
  .attr("x1", left).attr("x2", right).attr("y1", panels[3].y(doLevels[1])).attr("y2", panels[3].y(doLevels[1]))
  .attr("stroke", "#ff0000").attr("stroke-width", 3.2);

// axes
function styleAxis(sel) {
  sel.select(".domain").remove();
  sel.selectAll("line").attr("stroke", "#000").attr("stroke-width", 1.6);
  sel.selectAll("text").attr("fill", "#000").style("font-size", fontTick + "px");
}

panels.forEach(function(p, i) {
  var g = p.g;
  var minors = p.minor.filter(d => p.major.indexOf(d) < 0);
  if (i === 1) minors = minors.filter(d => d !== 10);

  g.append("g").attr("transform", "translate(" + left + ",0)")
    .call(d3.axisLeft(p.y).tickValues(minors).tickSize(8).tickFormat(""))
    .call(styleAxis);
  g.append("g").attr("transform", "translate(" + left + ",0)")
    .call(d3.axisLeft(p.y).tickValues(i === 1 ? [10].concat(p.major) : p.major).tickSize(13).tickPadding(12)
      .tickFormat(d => (i === 1 && d === 10) ? "" : d3.format("d")(d)))
    .call(styleAxis);
  g.append("g").attr("transform", "translate(" + right + ",0)")
    .call(d3.axisRight(p.yR).tickValues(d3.range(0, 2.51, 0.5)).tickSize(11).tickPadding(12).tickFormat(d3.format(".1f")))
    .call(styleAxis);

  // bottom ticks (outward) and top ticks (inward)
  g.append("g").attr("transform", "translate(0," + p.bottom + ")")
    .call(d3.axisBottom(x).tickValues(d3.range(0.5, 30, 1)).tickSize(5).tickFormat(""))
    .call(styleAxis);
  var bottomAxis = d3.axisBottom(x).tickValues(d3.range(0, 31, 1)).tickSize(7).tickFormat("");
  g.append("g").attr("transform", "translate(0," + p.bottom + ")").call(bottomAxis).call(styleAxis);
  if (!p.halfGrid) {
    g.append("g").attr("transform", "translate(0," + p.top + ")")
      .call(d3.axisBottom(x).tickValues(d3.range(0.5, 30, 1)).tickSize(5).tickFormat(""))
      .call(styleAxis);
  }

  g.append("rect").attr("x", left).attr("y", p.top).attr("width", right - left).attr("height", p.bottom - p.top)
    .attr("fill", "none").attr("stroke", "#000").attr("stroke-width", 1.6);

  var cy = (p.top + p.bottom) / 2;
  g.append("text").attr("transform", "translate(33," + cy + ") rotate(-90)")
    .attr("text-anchor", "middle").style("font-size", "27.5px").text(p.title);
  g.append("text").attr("transform", "translate(1462," + cy + ") rotate(-90)")
    .attr("text-anchor", "middle").style("font-size", "26px").text("Rainfall (inches) - PVD");
});

// date labels under the last panel
svg.append("g").selectAll("text").data(dates).enter().append("text")
  .attr("transform", (d, i) => "translate(" + x(i) + ",1729) rotate(-90)")
  .attr("text-anchor", "end").attr("dy", "0.35em").style("font-size", fontTick + "px").text(d => d);

// legends
function legendBox(x0, y0, x1, y1) {
  svg.append("rect").attr("x", x0).attr("y", y0).attr("width", x1 - x0).attr("height", y1 - y0)
    .attr("fill", "#fff").attr("stroke", "#333").attr("stroke-width", 1.5);
}
legendBox(1090.5, 248, 1289, 349);
svg.append("rect").attr("x", 1110).attr("y", 273.5).attr("width", 60).attr("height", 16.5)
  .attr("fill", barFill).attr("stroke", "#2a2a2a").attr("stroke-width", 1.5);
svg.append("text").attr("x", 1186.5).attr("y", 289.5).style("font-size", "25px").text("Rain");
svg.append("line").attr("x1", 1110.5).attr("x2", 1169).attr("y1", 313.5).attr("y2", 313.5)
  .attr("stroke", "#000").attr("stroke-width", 1.5);
svg.append("text").attr("x", 1186.5).attr("y", 322).style("font-size", "25px").text("Salinity");

legendBox(981.6, 465.7, 1328.9, 549.3);
svg.append("line").attr("x1", 1000.5).attr("x2", 1042.6).attr("y1", 494).attr("y2", 494)
  .attr("stroke", "#0c0c9c").attr("stroke-width", 1.4);
svg.append("text").attr("x", 1052.4).attr("y", 500).style("font-size", "17.5px").attr("fill", "#222").text("Water Temperature");
svg.append("line").attr("x1", 1001).attr("x2", 1042).attr("y1", 520).attr("y2", 520)
  .attr("stroke", "#ff0000").attr("stroke-width", 5.5).attr("stroke-linecap", "round").attr("stroke-dasharray", "0 13.6");
svg.append("text").attr("x", 1052.4).attr("y", 526).style("font-size", "17.5px").attr("fill", "#222").text("Average Daily Air Temp. (PVD)");

legendBox(1077.7, 945, 1330, 1012.7);
svg.append("line").attr("x1", 1096.7).attr("x2", 1156.7).attr("y1", 980).attr("y2", 980)
  .attr("stroke", "#0a960a").attr("stroke-width", 1.3);
svg.append("text").attr("x", 1171.7).attr("y", 988.5).style("font-size", "26px").text("Chlorophyll");

legendBox(1019, 1377.7, 1336.5, 1440);
svg.append("line").attr("x1", 1039).attr("x2", 1086).attr("y1", 1408.3).attr("y2", 1408.3)
  .attr("stroke", "#0000ff").attr("stroke-width", 1.3);
svg.append("text").attr("x", 1097.8).attr("y", 1415.5).style("font-size", "21px").attr("fill", "#333").text("Oxygen Concentration");
</script>
</body>
</html>
